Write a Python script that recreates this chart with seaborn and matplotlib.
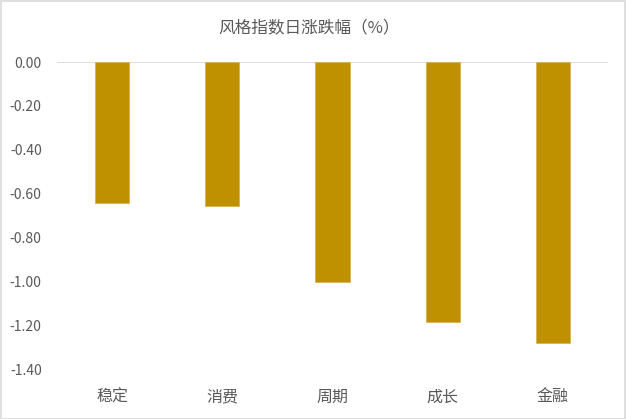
import matplotlib
matplotlib.use("Agg")
import matplotlib.pyplot as plt
import seaborn as sns
import pandas as pd
from matplotlib.patches import Rectangle

categories = ["稳定", "消费", "周期", "成长", "金融"]
values = [-0.641, -0.655, -1.005, -1.186, -1.282]
yticks = [0.0, -0.2, -0.4, -0.6, -0.8, -1.0, -1.2, -1.4]
ytick_labels = ["0.00", "-0.20", "-0.40", "-0.60", "-0.80", "-1.00", "-1.20", "-1.40"]
title = "风格指数日涨跌幅（%）"

sns.set_theme(style="white")
plt.rcParams['font.family'] = ['Noto Sans CJK SC', 'DejaVu Sans']
plt.rcParams['axes.unicode_minus'] = False

df = pd.DataFrame({"cat": categories, "val": values})

fig = plt.figure(figsize=(6.26, 4.19), dpi=100)
ax = fig.add_axes([57/626, 1-369/419, (608-57)/626, (369-62)/419])

sns.barplot(data=df, x="cat", y="val", color="#BF9000", saturation=1,
            width=0.31, ax=ax, edgecolor="#D9B552", linewidth=0.6)

ax.set_ylim(-1.4, 0)
ax.set_xlim(-0.5, 4.5)
ax.set_yticks(yticks)
ax.set_yticklabels(ytick_labels)
ax.set_xlabel("")
ax.set_ylabel("")
for s in ax.spines.values():
    s.set_visible(False)
ax.axhline(0, color="#D9D9D9", linewidth=1.2, zorder=0.5)
ax.tick_params(axis="y", length=0, pad=11, labelsize=10, labelcolor="#595959")
ax.tick_params(axis="x", length=0, pad=14, labelsize=11.5, labelcolor="#595959")

fig.text(0.5 * (222 + 396) / 626, 1 - 28/419, title, ha="center", va="center",
         fontsize=12, color="#595959")

fig.patches.append(Rectangle((0.5/626, 0.5/419), 1 - 1.5/626, 1 - 1.5/419,
                             transform=fig.transFigure, fill=False,
                             edgecolor="#D9D9D9", linewidth=1.2))

fig.savefig("out.png", dpi=100)
